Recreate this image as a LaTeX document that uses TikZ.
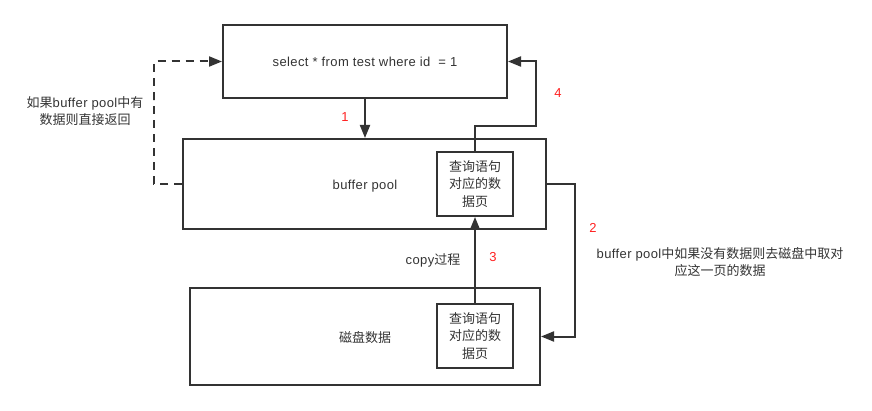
\documentclass[tikz,border=0pt]{standalone}
\usepackage{fontspec}
\setmainfont{Liberation Sans}[LetterSpace=3]
\newfontfamily\cjk{Noto Sans CJK SC}
\usetikzlibrary{arrows.meta}
\definecolor{ink}{HTML}{333333}
\definecolor{numred}{HTML}{FF2020}
\begin{document}
\begin{tikzpicture}[x=1pt,y=-1pt,
  box/.style={draw=ink,line width=2pt,inner sep=0pt,font=\fontsize{13}{17.5}\selectfont,text=ink},
  conn/.style={draw=ink,line width=2pt,-{Triangle[length=13pt,width=10pt]}},
  dconn/.style={conn,dash pattern=on 8pt off 6pt},
  lbl/.style={font=\fontsize{13}{17.5}\selectfont,text=ink,align=center},
  num/.style={font=\fontsize{13}{15}\selectfont,text=numred}]
\useasboundingbox (0,0) rectangle (872,411);
\node[box,minimum width=284pt,minimum height=73pt] (top) at (365,61.5) {select * from test where id\ \ = 1};
\node[box,minimum width=363pt,minimum height=90pt] (buf) at (364.5,184) {};
\node[lbl] (buftxt) at (365,186) {buffer pool};
\node[box,minimum width=76pt,minimum height=64pt,align=center] (bufin) at (475,184) {\cjk 查询语句\\\cjk 对应的数\\\cjk 据页};
\node[box,minimum width=350pt,minimum height=97pt] (disk) at (365,336.5) {};
\node[lbl] (disktxt) at (365,338) {\cjk 磁盘数据};
\node[box,minimum width=76pt,minimum height=64pt,align=center] (diskin) at (475,336) {\cjk 查询语句\\\cjk 对应的数\\\cjk 据页};
\coordinate (c4) at (536,126);
\coordinate (c1) at (154,100);
\coordinate (c2) at (575,260);
\draw[conn] (top.south) -- (top.south |- buf.north);
\draw[conn] (bufin.north) |- (c4) |- (top.east);
\draw[dconn] (buf.west) -| (c1) |- (top.west);
\draw[conn] (buf.east) -| (c2) |- (disk.east);
\draw[conn] (diskin.north) -- (bufin.south);
\node[num] (n1) at (345,117) {1};
\node[num] (n4) at (558,93) {4};
\node[num] (n2) at (593,228) {2};
\node[num] (n3) at (493,257) {3};
\node[lbl] (copy) at (433,260) {copy{\cjk 过程}};
\node[lbl] (ltxt) at (85,111) {{\cjk 如果}buffer pool{\cjk 中有}\\\cjk 数据则直接返回};
\node[lbl] (rtxt) at (720,262) {buffer pool{\cjk 中如果没有数据则去磁盘中取对}\\\cjk 应这一页的数据};
\end{tikzpicture}
\end{document}
